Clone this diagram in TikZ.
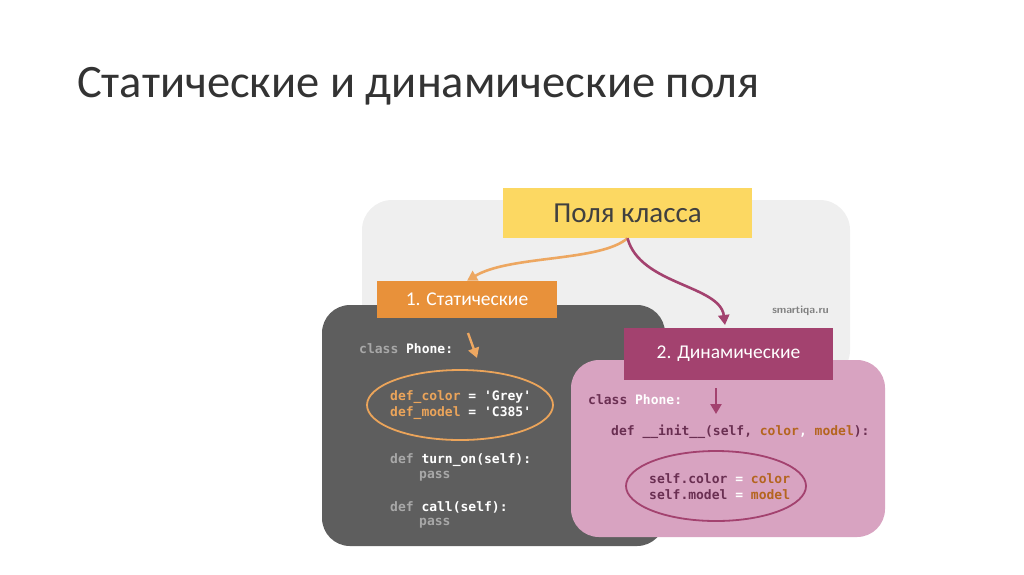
\documentclass[tikz,border=0pt]{standalone}
\usepackage{fontspec}
\setmainfont{Carlito}
\newfontfamily\cf{DejaVu Sans Mono}
\usetikzlibrary{arrows.meta}
\definecolor{ylw}{HTML}{FCD862}
\definecolor{org}{HTML}{E8913A}
\definecolor{mag}{HTML}{A3426F}
\definecolor{pnk}{HTML}{D8A3C1}
\definecolor{drk}{HTML}{5E5E5E}
\definecolor{lgr}{HTML}{EFEFEF}
\definecolor{kw}{HTML}{A8A8A8}
\definecolor{oc}{HTML}{EBA45A}
\definecolor{pk}{HTML}{6A2F52}
\definecolor{br}{HTML}{B4651F}
\tikzset{code/.style={anchor=west,inner sep=0,font=\cf\bfseries\fontsize{13}{15}\selectfont},
lab/.style={inner sep=0,text=white,font=\fontsize{19.5}{22}\selectfont},
arr/.style={line width=2.6pt,-{Triangle[length=10pt,width=11pt]}}}
\begin{document}
\begin{tikzpicture}[x=1pt,y=-1pt]
\useasboundingbox (0,0) rectangle (1024,574);
\node[anchor=west,inner sep=0,text=black!80,font=\fontsize{46.5}{52}\selectfont] (title) at (77,86) {Статические и динамические поля};
\fill[lgr,rounded corners=30] (362,200) rectangle (850,380);
\node[anchor=east,inner sep=0,text=gray,font=\sffamily\bfseries\fontsize{11}{13}\selectfont] (site) at (829,311) {smartiqa.ru};
\fill[drk,rounded corners=28] (322,305) rectangle (665,546);
\fill[pnk,rounded corners=28] (571,360) rectangle (885,537);
\node[fill=ylw,minimum width=249,minimum height=50,inner sep=0,text=black!75,font=\fontsize{29}{32}\selectfont] (top) at (627.5,213) {Поля класса};
\node[lab,fill=org,minimum width=180,minimum height=37] (st) at (467,299.5) {1. Статические};
\node[lab,fill=mag,minimum width=209,minimum height=52] (dy) at (728.5,354) {2. Динамические};
\draw[arr,org!80] (top.south) .. controls (600,262) and (510,255) .. (st.north);
\draw[arr,mag] (top.south) .. controls (640,285) and (720,285) .. (725,325);
% static code
\node[code] (c1) at (359,349) {\textcolor{kw}{class} \textcolor{white}{Phone:}};
\draw[arr,org!80,line width=2.4pt] (468,333) -- (477,358);
\draw[oc,line width=1.8pt] (460,405) ellipse (93 and 35);
\node[code] (c2) at (390,397) {\textcolor{oc}{def\_color} \textcolor{white}{= 'Grey'}};
\node[code] (c3) at (390,413) {\textcolor{oc}{def\_model} \textcolor{white}{= 'C385'}};
\node[code] (c4) at (390,460) {\textcolor{kw}{def} \textcolor{white}{turn\_on(self):}};
\node[code] (c5) at (419,476) {\textcolor{kw}{pass}};
\node[code] (c6) at (390,507) {\textcolor{kw}{def} \textcolor{white}{call(self):}};
\node[code] (c7) at (419,523) {\textcolor{kw}{pass}};
% dynamic code
\node[code] (d1) at (588,400) {\textcolor{pk}{class} \textcolor{white}{Phone:}};
\draw[arr,mag,line width=2.4pt] (716,388) -- (716,414);
\node[code] (d2) at (611,432) {\textcolor{pk}{def \_\_init\_\_(self,} \textcolor{br}{color}\textcolor{white}{,} \textcolor{br}{model}\textcolor{pk}{):}};
\draw[mag,line width=1.8pt] (716,486) ellipse (90 and 35);
\node[code] (d3) at (649,479) {\textcolor{pk}{self.color} \textcolor{white}{=} \textcolor{br}{color}};
\node[code] (d4) at (649,495) {\textcolor{pk}{self.model} \textcolor{white}{=} \textcolor{br}{model}};
\end{tikzpicture}
\end{document}
